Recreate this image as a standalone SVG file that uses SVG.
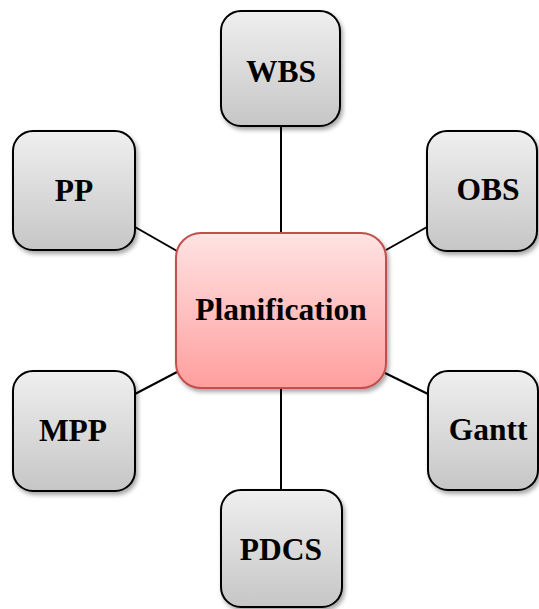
<svg xmlns="http://www.w3.org/2000/svg" width="539" height="609" viewBox="0 0 539 609">
<defs>
<linearGradient id="gGray" x1="0" y1="0" x2="0" y2="1">
<stop offset="0" stop-color="#efefef"/>
<stop offset="1" stop-color="#c6c6c6"/>
</linearGradient>
<linearGradient id="gRed" x1="0" y1="0" x2="0" y2="1">
<stop offset="0" stop-color="#ffe3e3"/>
<stop offset="1" stop-color="#ff9e9e"/>
</linearGradient>
<filter id="sh" x="-20%" y="-20%" width="140%" height="140%">
<feDropShadow dx="2" dy="3" stdDeviation="2" flood-color="#000" flood-opacity="0.35"/>
</filter>
</defs>
<style>
.box{fill:url(#gGray);stroke:#000;stroke-width:2;filter:url(#sh)}
.main{fill:url(#gRed);stroke:#c0504d;stroke-width:2;filter:url(#sh)}
.lbl{font-family:"Liberation Serif","Times New Roman",serif;font-weight:bold;font-size:31.5px;fill:#000;text-anchor:middle}
.conn{stroke:#000;stroke-width:2;fill:none}
</style>
<g id="connectors">
<line class="conn" x1="281" y1="126" x2="281" y2="233"/>
<line class="conn" x1="281" y1="388" x2="281" y2="490"/>
<line class="conn" x1="135" y1="227" x2="177" y2="251"/>
<line class="conn" x1="386" y1="250" x2="427" y2="227"/>
<line class="conn" x1="135" y1="394" x2="177" y2="372"/>
<line class="conn" x1="385" y1="373" x2="428" y2="394"/>
</g>
<g id="WBS">
<rect class="box" x="221" y="11" width="119" height="115" rx="20"/>
<text class="lbl" x="281" y="82">WBS</text>
</g>
<g id="PP">
<rect class="box" x="13" y="131" width="122" height="119" rx="20"/>
<text class="lbl" x="74" y="201">PP</text>
</g>
<g id="OBS">
<rect class="box" x="427" y="131" width="110" height="120" rx="20"/>
<text class="lbl" x="488" y="200">OBS</text>
</g>
<g id="Planification">
<rect class="main" x="176" y="233" width="210" height="155" rx="25"/>
<text class="lbl" x="281" y="320">Planification</text>
</g>
<g id="MPP">
<rect class="box" x="13" y="371" width="122" height="120" rx="20"/>
<text class="lbl" x="73" y="441">MPP</text>
</g>
<g id="Gantt">
<rect class="box" x="428" y="371" width="110" height="119" rx="20"/>
<text class="lbl" x="488" y="440">Gantt</text>
</g>
<g id="PDCS">
<rect class="box" x="221" y="490" width="121" height="117" rx="20"/>
<text class="lbl" x="281" y="560">PDCS</text>
</g>
</svg>
